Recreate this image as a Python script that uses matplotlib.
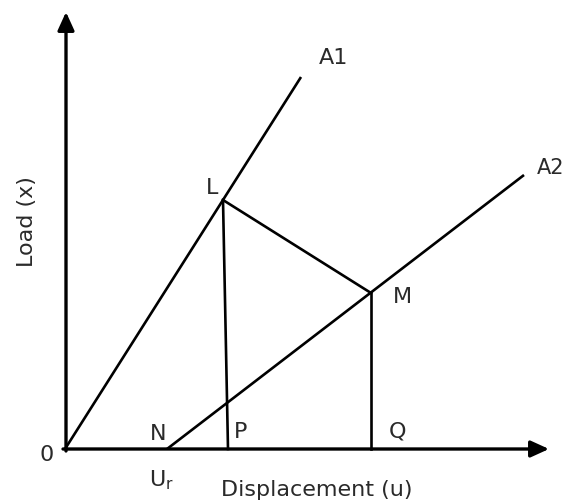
import matplotlib.pyplot as plt

# key points of the diagram (displacement u, load x)
origin = (0.0, 0.0)
pt_L = (1.58, 2.49)
pt_M = (3.06, 1.56)
pt_N = (1.02, 0.0)
pt_P = (1.63, 0.0)
pt_Q = (3.06, 0.0)
end_A1 = (2.36, 3.72)
end_A2 = (4.59, 2.74)
u_max = 4.84
x_max = 4.37

ink = 'black'
txt = '#2a2a2a'

fig = plt.figure(figsize=(5.68, 5.04), dpi=100)
ax = fig.add_axes([0, 0, 1, 1])
ax.set_xlim(-0.65, 5.03)
ax.set_ylim(-0.55, 4.49)
ax.axis('off')

# axes with arrows
ax.annotate('', xy=(u_max, 0), xytext=(origin[0] - 0.02, 0),
            arrowprops=dict(arrowstyle='-|>,head_length=1.1,head_width=0.5',
                            lw=2.4, color=ink, shrinkA=0, shrinkB=0))
ax.annotate('', xy=(0.01, x_max), xytext=(0.01, -0.02),
            arrowprops=dict(arrowstyle='-|>,head_length=1.1,head_width=0.5',
                            lw=2.4, color=ink, shrinkA=0, shrinkB=0))

# loading lines
ax.plot([origin[0], end_A1[0]], [origin[1], end_A1[1]], color=ink, lw=1.9,
        solid_capstyle='butt')
ax.plot([pt_N[0], end_A2[0]], [pt_N[1], end_A2[1]], color=ink, lw=1.9,
        solid_capstyle='butt')
ax.plot([pt_L[0], pt_M[0]], [pt_L[1], pt_M[1]], color=ink, lw=1.9)
ax.plot([pt_L[0], pt_P[0]], [pt_L[1], pt_P[1]], color=ink, lw=1.9)
ax.plot([pt_M[0], pt_Q[0]], [pt_M[1], pt_Q[1]], color=ink, lw=1.9)

fs = 16
ax.text(-0.18, -0.06, '0', fontsize=fs, color=txt, ha='center', va='center')
ax.text(pt_N[0] - 0.09, 0.15, 'N', fontsize=fs, color=txt, ha='center', va='center')
ax.text(pt_P[0] + 0.13, 0.17, 'P', fontsize=fs, color=txt, ha='center', va='center')
ax.text(pt_Q[0] + 0.26, 0.17, 'Q', fontsize=fs, color=txt, ha='center', va='center')
ax.text(pt_L[0] - 0.11, 2.61, 'L', fontsize=fs, color=txt, ha='center', va='center')
ax.text(pt_M[0] + 0.31, 1.52, 'M', fontsize=fs, color=txt, ha='center', va='center')
ax.text(end_A1[0] + 0.33, 3.91, 'A1', fontsize=fs, color=txt, ha='center', va='center')
ax.text(end_A2[0] + 0.13, 2.81, 'A2', fontsize=fs - 1, color=txt, ha='left', va='center')
ax.text(pt_N[0] - 0.06, -0.31, r'$\mathregular{U_r}$', fontsize=fs, color=txt,
        ha='center', va='center')

ax.text(2.52, -0.41, 'Displacement (u)', fontsize=fs, color=txt,
        ha='center', va='center')
ax.text(-0.38, 2.27, 'Load (x)', fontsize=fs, color=txt, rotation=90,
        ha='center', va='center')

fig.savefig('out.png', dpi=100)
